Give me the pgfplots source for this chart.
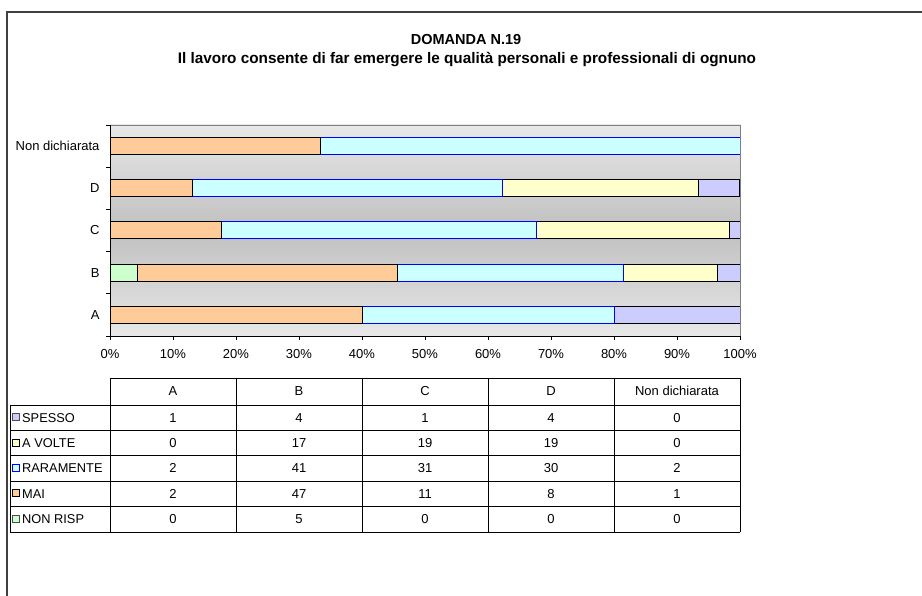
\documentclass[border=0pt]{standalone}
\usepackage{pgfplots}
\usepackage{pgfplotstable}
\pgfplotsset{compat=1.18}
\usepackage{fontspec}
\setmainfont{Liberation Sans}

\definecolor{cNR}{HTML}{CCFFCC}
\definecolor{cMAI}{HTML}{FFCC99}
\definecolor{cRAR}{HTML}{CCFFFF}
\definecolor{cAV}{HTML}{FFFFCC}
\definecolor{cSP}{HTML}{CCCCFF}
\definecolor{bgL}{HTML}{E8E8E8}
\definecolor{bgD}{HTML}{C0C0C0}

% conteggi per categoria (righe) e risposta (colonne)
\pgfplotstableread{
pos spesso avolte raramente mai nonrisp tot
0   1      0      2         2   0       5
1   4      17     41        47  5       114
2   1      19     31        11  0       62
3   4      19     30        8   0       61
4   0      0      2         1   0       3
}\dati

\newcommand{\txt}{\fontsize{13bp}{15bp}\selectfont}

\begin{document}
\begin{tikzpicture}[x=1bp,y=1bp]
\useasboundingbox (0,0) rectangle (922,596);

\begin{axis}[
    at={(110bp,260bp)}, anchor=south west,
    scale only axis, width=630bp, height=211bp,
    xbar stacked, bar width=17bp,
    xmin=0, xmax=100, ymin=-0.5, ymax=4.5,
    axis x line*=bottom, axis y line*=left,
    axis line style={-, black, line width=0.9bp},
    axis background/.style={draw=black!50, line width=0.9bp,
        top color=bgL, bottom color=bgL, middle color=bgD},
    xtick={0,10,...,100},
    xticklabels={0\%,10\%,20\%,30\%,40\%,50\%,60\%,70\%,80\%,90\%,100\%},
    ytick={-0.5,0.5,1.5,2.5,3.5,4.5},
    y tick label as interval,
    yticklabels={A,B,C,D,Non dichiarata},
    tick align=outside, major tick length=4bp,
    tick style={black, line width=0.8bp},
    tick label style={font=\txt},
    xticklabel style={yshift=-6bp},
    yticklabel style={xshift=-3bp},
    every axis plot/.append style={line width=1bp},
]
\addplot[fill=cNR, draw=black] table[x expr=\thisrow{nonrisp}/\thisrow{tot}*100, y=pos]{\dati};
\addplot[fill=cMAI, draw=black] table[x expr=\thisrow{mai}/\thisrow{tot}*100, y=pos]{\dati};
\addplot[fill=cRAR, draw=blue] table[x expr=\thisrow{raramente}/\thisrow{tot}*100, y=pos]{\dati};
\addplot[fill=cAV, draw=black] table[x expr=\thisrow{avolte}/\thisrow{tot}*100, y=pos]{\dati};
\addplot[fill=cSP, draw=black] table[x expr=\thisrow{spesso}/\thisrow{tot}*100, y=pos]{\dati};
\end{axis}

% da qui coordinate in pixel dell'immagine, y verso il basso
\begin{scope}[yshift=596bp, yscale=-1]
% cornice
\draw[line width=2bp, black!75] (7,610) -- (7,12.5) -- (940,12.5);

% titolo
\node[anchor=base, font=\fontsize{14.5bp}{17bp}\selectfont\bfseries] at (466,45) {DOMANDA N.19};
\node[anchor=base, font=\fontsize{15.3bp}{17bp}\selectfont\bfseries] at (467,64)
  {Il lavoro consente di far emergere le qualità personali e professionali di ognuno};

% tabella dati
\begin{scope}[line width=0.8bp]
\draw (110,378) -- (740,378);
\foreach \yy in {405,430.4,455.8,481.2,506.6,532} \draw (10,\yy) -- (740,\yy);
\draw (10,405) -- (10,532);
\foreach \xx in {110,236,362,488,614,740} \draw (\xx,378) -- (\xx,532);
\end{scope}

\foreach \h [count=\k from 0] in {A,B,C,D,Non dichiarata}
  \node[anchor=base, font=\txt, inner sep=0] at ({173+126*\k},396) {\h};

\foreach \c/\lab/\fc/\dc [count=\i from 0] in
  {spesso/SPESSO/cSP/black!70, avolte/A VOLTE/cAV/black, raramente/RARAMENTE/cRAR/blue,
   mai/MAI/cMAI/black, nonrisp/NON RISP/cNR/black!70} {
  \pgfmathsetmacro{\ry}{417.7+25.4*\i}
  \draw[fill=\fc, draw=\dc, line width=0.9bp] (12,\ry-4) rectangle (19,\ry+3);
  \node[anchor=base west, font=\fontsize{12.8bp}{15bp}\selectfont, inner sep=0] at (22,\ry+4.5) {\lab};
  \foreach \r in {0,...,4} {
    \pgfplotstablegetelem{\r}{\c}\of\dati
    \node[anchor=base, font=\txt, inner sep=0] at ({173+126*\r},\ry+4.5) {\pgfplotsretval};
  }
}
\end{scope}
\end{tikzpicture}
\end{document}
